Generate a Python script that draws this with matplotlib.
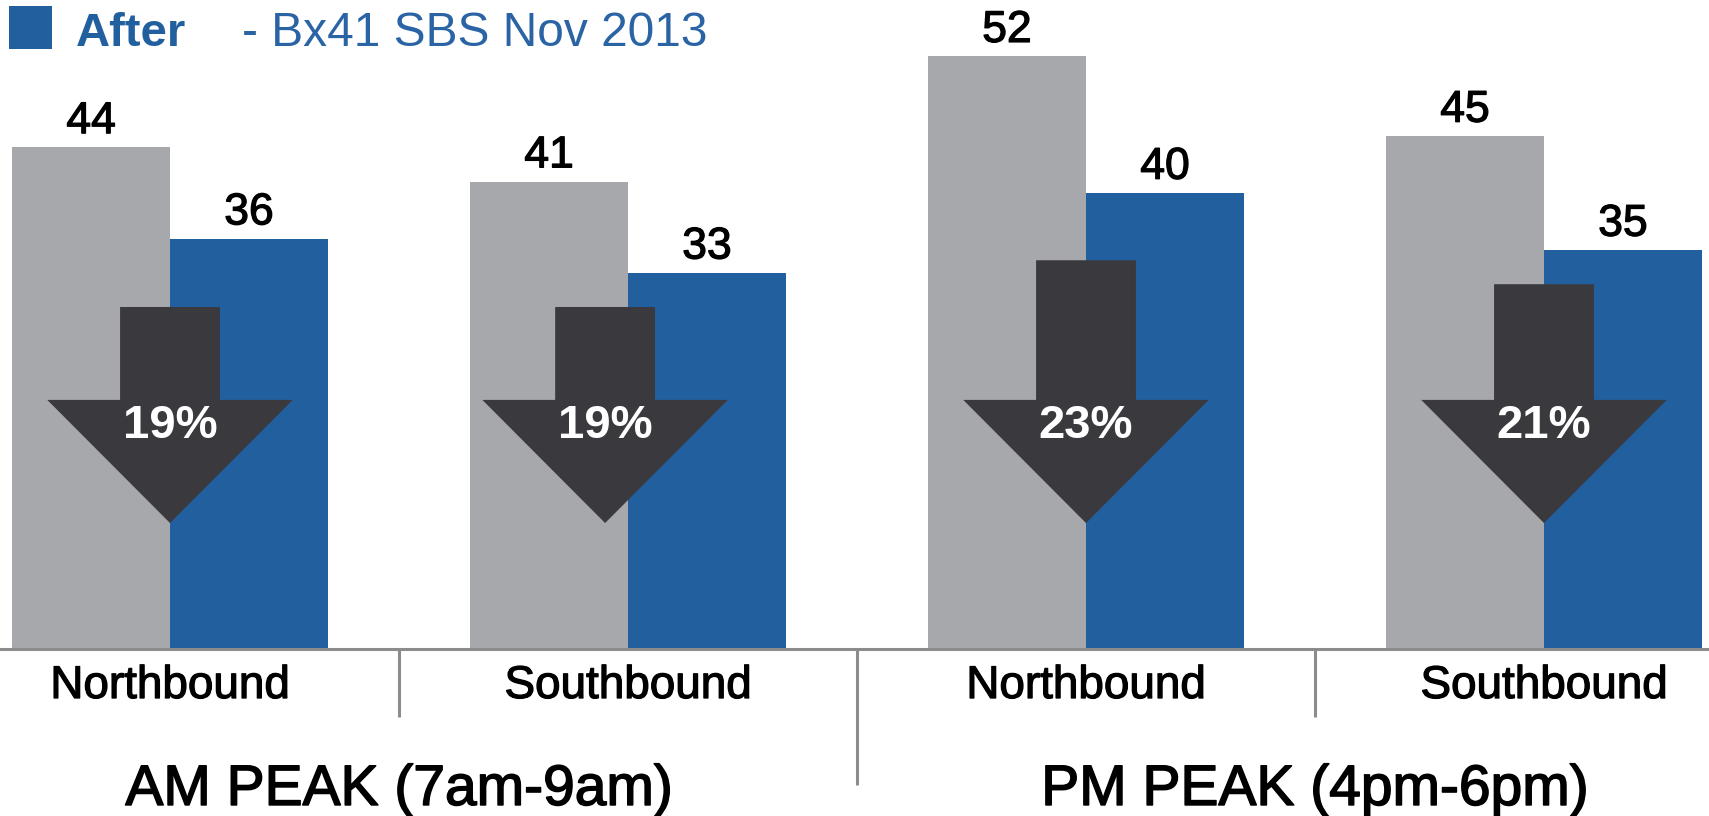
import matplotlib
matplotlib.use("Agg")
import matplotlib.pyplot as plt
import matplotlib.patheffects as pe
from matplotlib.patches import Polygon, Rectangle
import numpy as np

plt.rcParams['font.family'] = ['Liberation Sans', 'DejaVu Sans']

# Travel times (minutes) before and after Select Bus Service
directions = ["Northbound", "Southbound", "Northbound", "Southbound"]
periods = ["AM PEAK (7am-9am)", "PM PEAK (4pm-6pm)"]
before = [44, 41, 52, 45]
after = [36, 33, 40, 35]
reduction_labels = ["19%", "19%", "23%", "21%"]
legend_label = "After"
legend_note = "- Bx41 SBS Nov 2013"

GRAY = "#a7a8ac"
BLUE = "#225f9e"
DARK = "#3a393d"
LINE = "#8c8c8c"


def heavy(color, lw=0.9):
    return [pe.withStroke(linewidth=lw, foreground=color)]


fig = plt.figure(figsize=(17.09, 8.16), dpi=100)
ax = fig.add_axes([0, 0, 1, 1])
ax.set_xlim(-0.3712, 3.3603)
ax.set_ylim(-14.65, 56.93)
ax.axis("off")

x = np.arange(len(directions))
w = 0.345
ax.bar(x - w / 2, before, width=w, color=GRAY, zorder=1)
ax.bar(x + w / 2, after, width=w, color=BLUE, zorder=1)

for xi, b, a in zip(x, before, after):
    ax.text(xi - w / 2, b + 1.25, f"{b}", ha="center", va="baseline",
            fontsize=32, color="black", path_effects=heavy("black"))
    ax.text(xi + w / 2, a + 1.25, f"{a}", ha="center", va="baseline",
            fontsize=32, color="black", path_effects=heavy("black"))

# Down arrows showing the percentage reduction
arrow_top = [30.0, 30.0, 34.1, 32.0]
arrow_shift = [0.0, -0.05, 0.0, 0.0]
shaft_hw, head_hw = 0.109, 0.268
head_y, tip_y = 21.85, 11.05
for xi, top, dx, lab in zip(x, arrow_top, arrow_shift, reduction_labels):
    cx = xi + dx
    pts = [(cx - shaft_hw, top), (cx + shaft_hw, top), (cx + shaft_hw, head_y),
           (cx + head_hw, head_y), (cx, tip_y), (cx - head_hw, head_y),
           (cx - shaft_hw, head_y)]
    ax.add_patch(Polygon(pts, closed=True, facecolor=DARK, edgecolor="none", zorder=3))
    ax.text(cx, 19.55, lab, ha="center", va="center", fontsize=34,
            fontweight="bold", color="white", zorder=4)

# Baseline and separators
ax.axhline(0, color=LINE, lw=2.2, zorder=2)
for sx, bottom in [(0.5, -5.95), (1.5, -11.95), (2.5, -5.95)]:
    ax.plot([sx, sx], [0, bottom], color=LINE, lw=2.2, zorder=2,
            solid_capstyle="butt")

for xi, d in zip(x, directions):
    ax.text(xi, -4.3, d, ha="center", va="baseline", fontsize=33,
            color="black", path_effects=heavy("black"))
for px, p in zip([0.5, 2.5], periods):
    ax.text(px, -13.68, p, ha="center", va="baseline", fontsize=41,
            color="black", path_effects=heavy("black", 1.1))

# Legend entry
ax.add_patch(Rectangle((-0.352, 52.6), 0.094, 3.8, facecolor=BLUE,
                       edgecolor="none", clip_on=False))
ax.text(-0.205, 52.9, legend_label, ha="left", va="baseline", fontsize=34,
        fontweight="bold", color=BLUE)
ax.text(0.157, 52.9, legend_note, ha="left", va="baseline", fontsize=34.5,
        color="#2b64a4")

fig.savefig("out.png", dpi=100)
